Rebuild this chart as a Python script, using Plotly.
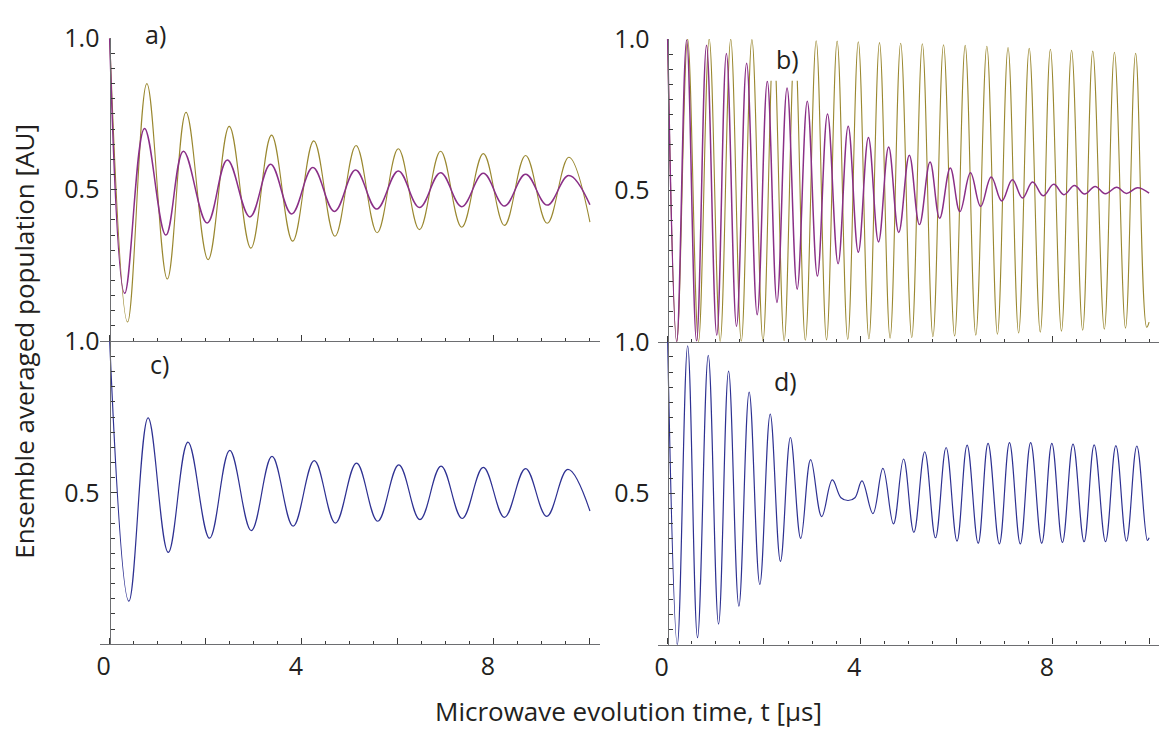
import plotly.graph_objects as go

# ---------------------------------------------------------------
# Data: turning points of each curve (time in µs, population in AU)
# ---------------------------------------------------------------

# a) two damped responses
a_gold_t = [0.0, 0.373, 0.774, 1.20, 1.59, 2.05, 2.49, 2.94, 3.37, 3.81, 4.25, 4.69,
            5.13, 5.57, 6.01, 6.45, 6.89, 7.33, 7.78, 8.22, 8.66, 9.11, 9.56, 10.0]
a_gold_v = [1.0, 0.063, 0.850, 0.205, 0.755, 0.269, 0.709, 0.307, 0.680, 0.330, 0.661, 0.346,
            0.646, 0.358, 0.635, 0.368, 0.627, 0.376, 0.619, 0.382, 0.613, 0.389, 0.607, 0.393]

a_purple_t = [0.0, 0.313, 0.726, 1.17, 1.535, 2.03, 2.45, 2.92, 3.35, 3.79, 4.23, 4.68,
              5.12, 5.56, 6.01, 6.45, 6.89, 7.33, 7.78, 8.22, 8.66, 9.11, 9.56, 10.0]
a_purple_v = [1.0, 0.158, 0.702, 0.350, 0.627, 0.390, 0.598, 0.410, 0.584, 0.420, 0.573, 0.428,
              0.565, 0.436, 0.562, 0.441, 0.556, 0.444, 0.554, 0.446, 0.551, 0.449, 0.547, 0.450]

# b) fast oscillations
b_gold_t = [0.0, 0.19, 0.414, 0.64, 0.863, 1.09, 1.31, 1.53, 1.75, 1.98, 2.20, 2.42, 2.64,
            2.86, 3.085, 3.30, 3.52, 3.74, 3.96, 4.18, 4.40, 4.62, 4.84, 5.07, 5.29, 5.51,
            5.73, 5.96, 6.18, 6.40, 6.63, 6.85, 7.07, 7.29, 7.51, 7.74, 7.95, 8.18, 8.39,
            8.62, 8.83, 9.07, 9.28, 9.51, 9.72, 9.95, 10.0]
b_gold_v = [1.0, 0.0, 1.0, 0.0, 1.0, 0.001, 0.999, 0.002, 0.998, 0.003, 0.997, 0.004, 0.996,
            0.005, 0.994, 0.006, 0.993, 0.008, 0.991, 0.010, 0.988, 0.012, 0.986, 0.014, 0.984,
            0.017, 0.981, 0.019, 0.979, 0.022, 0.976, 0.025, 0.972, 0.029, 0.969, 0.032, 0.966,
            0.035, 0.963, 0.038, 0.960, 0.042, 0.956, 0.045, 0.953, 0.048, 0.065]

b_purple_t = [0.0, 0.187, 0.394, 0.60, 0.807, 1.02, 1.22, 1.43, 1.64, 1.86, 2.07, 2.27, 2.48,
              2.69, 2.90, 3.11, 3.32, 3.54, 3.75, 3.96, 4.17, 4.38, 4.59, 4.80, 5.02, 5.23,
              5.45, 5.65, 5.87, 6.07, 6.29, 6.50, 6.72, 6.94, 7.16, 7.37, 7.58, 7.80, 8.02,
              8.23, 8.45, 8.66, 8.88, 9.09, 9.33, 9.53, 9.76, 10.0]
b_purple_v = [1.0, 0.0, 0.997, 0.003, 0.979, 0.022, 0.952, 0.051, 0.920, 0.089, 0.860, 0.130,
              0.838, 0.174, 0.794, 0.217, 0.752, 0.258, 0.712, 0.296, 0.675, 0.330, 0.643,
              0.361, 0.616, 0.387, 0.594, 0.408, 0.574, 0.430, 0.558, 0.447, 0.544, 0.465,
              0.535, 0.475, 0.528, 0.482, 0.520, 0.486, 0.516, 0.488, 0.513, 0.489, 0.510,
              0.490, 0.509, 0.491]

# c) single damped response
c_blue_t = [0.0, 0.40, 0.80, 1.22, 1.63, 2.08, 2.50, 2.95, 3.38, 3.82, 4.26, 4.70, 5.14,
            5.58, 6.02, 6.46, 6.90, 7.34, 7.78, 8.22, 8.66, 9.10, 9.54, 10.0]
c_blue_v = [1.0, 0.142, 0.747, 0.303, 0.667, 0.350, 0.640, 0.375, 0.620, 0.390, 0.606, 0.400,
            0.598, 0.406, 0.592, 0.411, 0.588, 0.415, 0.584, 0.419, 0.580, 0.422, 0.577, 0.440]

# d) beating response
d_blue_t = [0.0, 0.20, 0.415, 0.62, 0.843, 1.057, 1.265, 1.479, 1.693, 1.914, 2.13, 2.343,
            2.55, 2.764, 2.97, 3.20, 3.42, 3.60, 3.746, 3.89, 4.036, 4.264, 4.471, 4.69, 4.90,
            5.114, 5.34, 5.563, 5.784, 6.01, 6.22, 6.45, 6.655, 6.89, 7.10, 7.325, 7.54, 7.77,
            7.98, 8.20, 8.42, 8.65, 8.86, 9.095, 9.31, 9.53, 9.745, 9.965, 10.0]
d_blue_v = [1.0, 0.0, 0.987, 0.023, 0.955, 0.068, 0.903, 0.127, 0.834, 0.199, 0.761, 0.275,
            0.684, 0.351, 0.611, 0.423, 0.544, 0.485, 0.476, 0.485, 0.541, 0.433, 0.582, 0.399,
            0.613, 0.371, 0.637, 0.353, 0.651, 0.342, 0.659, 0.335, 0.665, 0.333, 0.667, 0.333,
            0.667, 0.335, 0.665, 0.338, 0.662, 0.340, 0.660, 0.340, 0.657, 0.342, 0.656, 0.344,
            0.353]

x_major_ticks = [0, 2, 4, 6, 8, 10]
x_major_text = ["0", "", "4", "", "8", ""]
y_major_ticks = [0, 0.5, 1.0]
y_major_text = ["", "0.5", "1.0"]

# ---------------------------------------------------------------
# Styling
# ---------------------------------------------------------------
W, H = 1164, 731
FONT = "Open Sans, Noto Sans, DejaVu Sans, sans-serif"
TEXT = "#231f20"
AXIS = "#6d6e71"
TICK = "#3a3a3a"
GOLD = "#9a8830"
PURPLE = "#8a2f87"
BLUE = "#2e3192"
TICK_FS = 25
TITLE_FS = 26


def fx(px):
    return px / W


def fy(py):
    return 1 - py / H


# pixel frames: (x of t=-0.2, x of t=10.2), (y of 0, y of 1), x of the y axis
frames = {
    1: dict(xs=(96.4, 597.6), ys=(331.3, 20.7), yax=106.0, labels=False, stand=5),
    2: dict(xs=(656.3, 1158.7), ys=(332.0, 21.5), yax=666.0, labels=False, stand=13),
    3: dict(xs=(96.4, 597.6), ys=(642.0, 331.5), yax=106.0, labels=True, stand=5),
    4: dict(xs=(656.3, 1158.7), ys=(642.5, 332.0), yax=666.0, labels=True, stand=13),
}

fig = go.Figure()

curves = [
    (1, a_gold_t, a_gold_v, GOLD, 1.1),
    (1, a_purple_t, a_purple_v, PURPLE, 1.5),
    (2, b_gold_t, b_gold_v, GOLD, 1.1),
    (2, b_purple_t, b_purple_v, PURPLE, 1.5),
    (3, c_blue_t, c_blue_v, BLUE, 1.2),
    (4, d_blue_t, d_blue_v, BLUE, 1.2),
]
for k, t, v, col, lw in curves:
    sfx = "" if k == 1 else str(k)
    fig.add_trace(go.Scatter(
        x=t, y=v, mode="lines", xaxis="x" + sfx, yaxis="y" + sfx,
        line=dict(color=col, width=lw, shape="spline", smoothing=1.1),
        hoverinfo="skip", showlegend=False,
    ))

layout = dict(
    width=W, height=H, margin=dict(l=0, r=0, t=0, b=0),
    paper_bgcolor="white", plot_bgcolor="rgba(0,0,0,0)",
    font=dict(family=FONT, color=TEXT, size=TICK_FS),
    showlegend=False,
)

for k, f in frames.items():
    sfx = "" if k == 1 else str(k)
    layout["xaxis" + sfx] = dict(
        domain=[fx(f["xs"][0]), fx(f["xs"][1])], range=[-0.2, 10.2],
        anchor="y" + sfx, showgrid=False, zeroline=False,
        showline=True, linecolor=AXIS, linewidth=1.4,
        ticks="inside", tickmode="array", tickvals=x_major_ticks, ticktext=x_major_text,
        ticklen=6, tickwidth=1, tickcolor=TICK,
        minor=dict(ticks="inside", dtick=0.5, tick0=0, ticklen=3, tickwidth=1,
                   tickcolor=TICK, showgrid=False),
        showticklabels=f["labels"], tickfont=dict(size=TICK_FS, color=TEXT, family=FONT),
        ticklabelshift=-6, fixedrange=True,
    )
    layout["yaxis" + sfx] = dict(
        domain=[fy(f["ys"][0]), fy(f["ys"][1])], range=[0, 1],
        anchor="free", position=fx(f["yax"]), showgrid=False, zeroline=False,
        showline=True, linecolor=AXIS, linewidth=1.4,
        ticks="inside", tickmode="array", tickvals=y_major_ticks, ticktext=y_major_text,
        ticklen=6, tickwidth=1, tickcolor=TICK,
        minor=dict(ticks="inside", dtick=0.05, tick0=0, ticklen=4, tickwidth=1,
                   tickcolor=TICK, showgrid=False),
        tickfont=dict(size=TICK_FS, color=TEXT, family=FONT),
        ticklabelstandoff=f["stand"], fixedrange=True,
    )

fig.update_layout(**layout)

# white patch behind the "b)" label
fig.add_shape(type="rect", xref="x2", yref="y2", x0=2.02, x1=2.73, y0=0.862, y1=1.01,
              fillcolor="white", line=dict(width=0), layer="above")

panel_tags = [("a)", 151.7, 16.7), ("b)", 786.7, 42.0), ("c)", 156.3, 354.5), ("d)", 784.5, 371.8)]
for txt, px, py in panel_tags:
    fig.add_annotation(text=txt, xref="paper", yref="paper", x=fx(px), y=fy(py),
                       xanchor="center", yanchor="middle", showarrow=False,
                       font=dict(size=TICK_FS, color=TEXT, family=FONT))

fig.add_annotation(text="Ensemble averaged population [AU]", xref="paper", yref="paper",
                   x=fx(20), y=fy(331), textangle=-90, xanchor="center", yanchor="middle",
                   showarrow=False, font=dict(size=TITLE_FS, color=TEXT, family=FONT))
fig.add_annotation(text="Microwave evolution time, t [μs]", xref="paper", yref="paper",
                   x=fx(627), y=fy(711), xanchor="center", yanchor="middle",
                   borderpad=0, showarrow=False,
                   font=dict(size=TITLE_FS, color=TEXT, family=FONT))

fig.write_html("out.html")
